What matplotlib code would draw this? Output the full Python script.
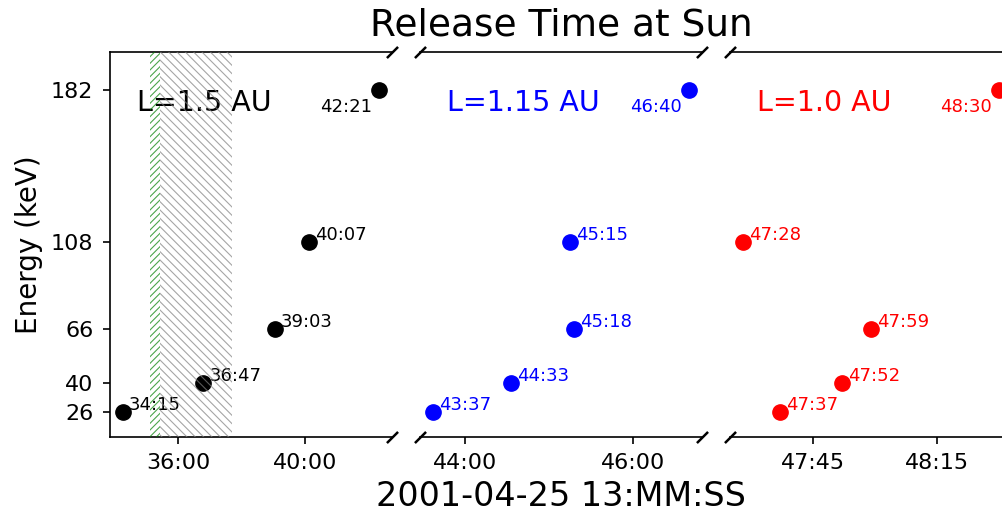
import matplotlib
matplotlib.use("Agg")
import matplotlib.pyplot as plt
from matplotlib.ticker import FixedLocator, FuncFormatter

plt.rcParams.update({"hatch.linewidth": 0.8})

# Energies (keV) and release times (MM:SS, hour 13) per path length
energies = [26, 40, 66, 108, 182]
times_150 = ["34:15", "36:47", "39:03", "40:07", "42:21"]
times_115 = ["43:37", "44:33", "45:18", "45:15", "46:40"]
times_100 = ["47:37", "47:52", "47:59", "47:28", "48:30"]

panel_labels = ["L=1.5 AU", "L=1.15 AU", "L=1.0 AU"]
panel_colors = ["black", "blue", "red"]
panel_ticks = [["36:00", "40:00"], ["44:00", "46:00"], ["47:45", "48:15"]]

# shaded intervals in the first panel
green_span = ["35:06", "35:25"]
grey_span = ["35:25", "37:42"]


def to_min(s):
    m, sec = s.split(":")
    return int(m) + int(sec) / 60.0


def fmt_mmss(x, pos=None):
    total = int(round(x * 60))
    return f"{total // 60:02d}:{total % 60:02d}"


W, H = 1003, 518
fig = plt.figure(figsize=(W / 100, H / 100), dpi=100)
bottom, height, width = 0.157, 0.742, 0.2812
lefts = [0.1097, 0.4187, 0.7278]
axes = [fig.add_axes([l, bottom, width, height]) for l in lefts]

series = [times_150, times_115, times_100]
for i, (ax, times) in enumerate(zip(axes, series)):
    col = panel_colors[i]
    xs = [to_min(t) for t in times]
    ax.plot(xs, energies, "o", color=col, ms=11, zorder=2)
    for x, e, t in zip(xs, energies, times):
        if e == max(energies):
            ax.annotate(t, (x, e), xytext=(-5, -16), textcoords="offset points",
                        ha="right", va="baseline", fontsize=13, color=col)
        else:
            ax.annotate(t, (x, e), xytext=(4.5, 1.5), textcoords="offset points",
                        ha="left", va="baseline", fontsize=13, color=col)
    ax.text(0.097, 0.848, panel_labels[i], transform=ax.transAxes,
            ha="left", va="baseline", fontsize=20.5, color=col)
    ax.set_ylim(14, 200)
    ax.xaxis.set_major_locator(FixedLocator([to_min(t) for t in panel_ticks[i]]))
    ax.xaxis.set_major_formatter(FuncFormatter(fmt_mmss))
    ax.tick_params(labelsize=16, width=1.2, length=5, pad=7)
    for sp in ax.spines.values():
        sp.set_linewidth(1.2)

ax1, ax2, ax3 = axes
ax1.axvspan(to_min(green_span[0]), to_min(green_span[1]), facecolor="none",
            edgecolor="green", alpha=0.7, hatch="/////", lw=0, zorder=3)
ax1.axvspan(to_min(grey_span[0]), to_min(grey_span[1]), facecolor="none",
            edgecolor="grey", alpha=0.7, hatch="\\\\\\\\", lw=0, zorder=3)

ax1.set_yticks(energies)
ax1.set_ylabel("Energy (keV)", fontsize=20, labelpad=6)
ax1.spines["right"].set_visible(False)
for ax in (ax2, ax3):
    ax.spines["left"].set_visible(False)
    ax.tick_params(axis="y", left=False, labelleft=False)
ax2.spines["right"].set_visible(False)
ax3.spines["right"].set_visible(False)

ax2.set_title("Release Time at Sun", fontsize=27, pad=12)
ax2.set_xlabel("2001-04-25 13:MM:SS", fontsize=24, labelpad=5)

# break marks
kw = dict(marker=[(-1, -1), (1, 1)], markersize=8, linestyle="none",
          color="k", mec="k", mew=1.8, clip_on=False)
ax1.plot([1, 1], [0, 1], transform=ax1.transAxes, **kw)
ax2.plot([0, 0, 1, 1], [0, 1, 0, 1], transform=ax2.transAxes, **kw)
ax3.plot([0, 0], [0, 1], transform=ax3.transAxes, **kw)

fig.savefig("out.png", dpi=100)
